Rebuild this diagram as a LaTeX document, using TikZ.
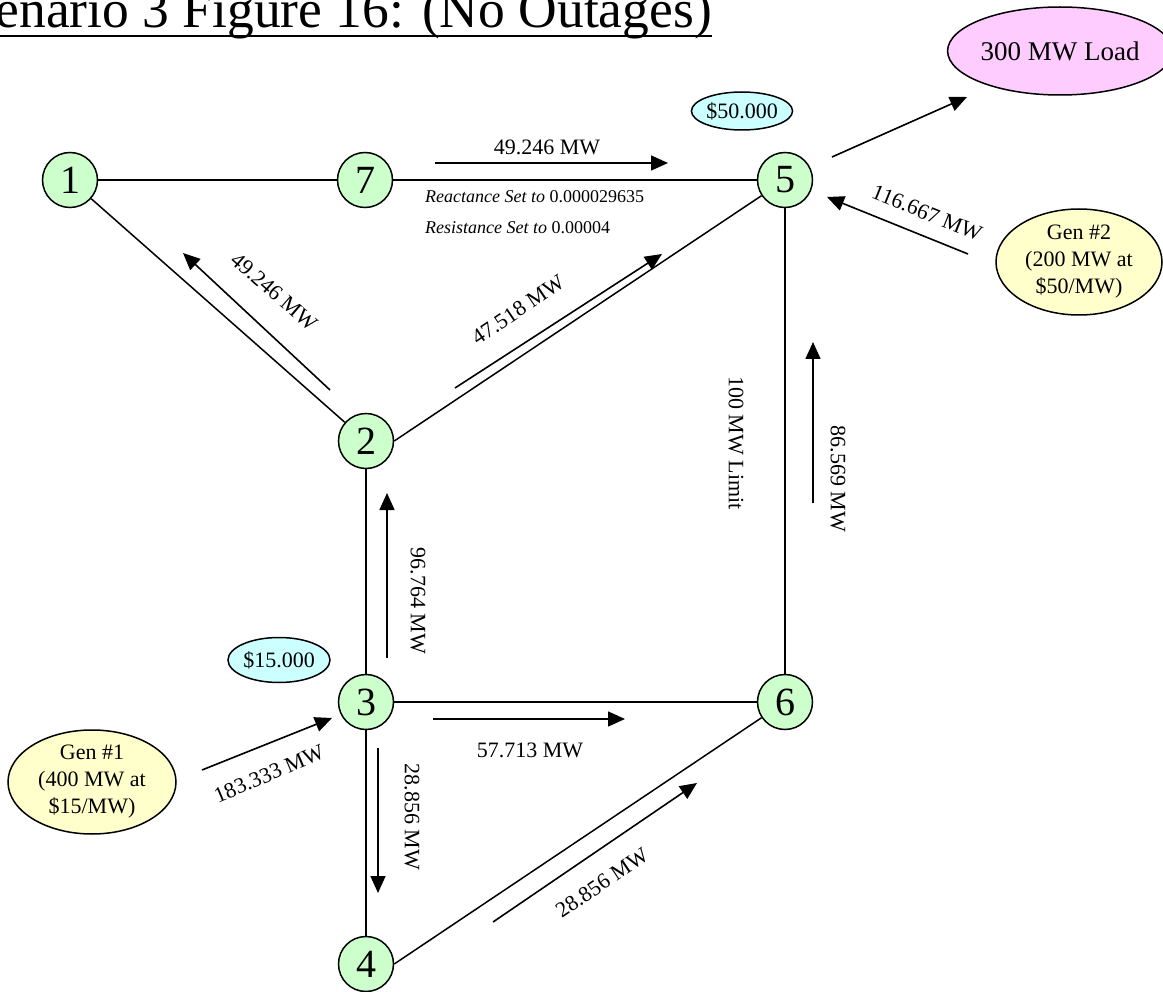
\documentclass[tikz,border=0pt]{standalone}
\usepackage{fontspec}
\setmainfont{Liberation Serif}
\usetikzlibrary{arrows.meta,shapes.geometric}
\definecolor{busgreen}{RGB}{204,255,204}
\definecolor{pricecyan}{RGB}{204,255,255}
\definecolor{genyellow}{RGB}{255,255,204}
\definecolor{loadpink}{RGB}{255,204,255}
\begin{document}
\begin{tikzpicture}[x=1pt,y=-1pt,
  bus/.style={circle,draw,line width=1.5pt,fill=busgreen,minimum size=55pt,
    inner sep=0pt,font=\fontsize{40}{40}\selectfont},
  tie/.style={line width=1.5pt},
  flow/.style={line width=1.6pt,-{Triangle[length=17pt,width=15pt]}},
  lbl/.style={inner sep=0pt,font=\fontsize{22}{26}\selectfont},
  note/.style={inner sep=0pt,font=\fontsize{18}{22}\selectfont},
  oval/.style={ellipse,draw,line width=1.5pt,inner sep=0pt,align=center,
    font=\fontsize{22}{27}\selectfont},
]
\useasboundingbox (0,0) rectangle (1163,992);

% title
\node[anchor=base east,inner sep=0pt,font=\fontsize{53.5}{60}\selectfont]
  (title) at (712,28) {Scenario 3 Figure 16: (No Outages)};
\draw[line width=2.2pt] ([yshift=-8pt]title.base west) -- ([yshift=-8pt]title.base east);

% buses
\node[bus] (n1) at (70,180) {1};
\node[bus] (n7) at (365,180) {7};
\node[bus] (n5) at (785,180) {5};
\node[bus] (n2) at (366,441) {2};
\node[bus] (n3) at (366,702) {3};
\node[bus] (n6) at (785,702) {6};
\node[bus] (n4) at (366,964) {4};

% generators, load and prices
\node[oval,fill=loadpink,minimum width=180pt,minimum height=88pt,
  font=\fontsize{27}{30}\selectfont] (load) at (1060,51) {300 MW Load};
\node[oval,fill=genyellow,minimum width=166pt,minimum height=106pt]
  (gen2) at (1079,262) {Gen \#2\\(200 MW at\\\$50/MW)};
\node[oval,fill=genyellow,minimum width=168pt,minimum height=104pt]
  (gen1) at (92,782) {Gen \#1\\(400 MW at\\\$15/MW)};
\node[oval,fill=pricecyan,minimum width=100pt,minimum height=38pt]
  (p5) at (742,111) {\$50.000};
\node[oval,fill=pricecyan,minimum width=102pt,minimum height=45pt]
  (p3) at (279,660) {\$15.000};

% transmission lines
\draw[tie] (n1) -- (n7);
\draw[tie] (n7) -- (n5);
\draw[tie] (n1) -- (n2);
\draw[tie] (n2.east) -- (n5);
\draw[tie] (n2) -- (n3);
\draw[tie] (n3) -- (n6);
\draw[tie] (n3) -- (n4);
\draw[tie] (n4.east) -- (n6);
\draw[tie] (n5) -- (n6);

% flow arrow end points
\coordinate (a75s) at (435,163);  \coordinate (a75e) at (668,163);
\coordinate (a21s) at (330,390);  \coordinate (a21e) at (183,253);
\coordinate (a25s) at (455,388);  \coordinate (a25e) at (662,254);
\coordinate (a32s) at (387,658);  \coordinate (a32e) at (387,493);
\coordinate (a65s) at (813,503);  \coordinate (a65e) at (813,342);
\coordinate (a36s) at (433,719);  \coordinate (a36e) at (625,719);
\coordinate (a34s) at (378,748);  \coordinate (a34e) at (378,893);
\coordinate (a46s) at (493,922);  \coordinate (a46e) at (697,783);
\coordinate (ag1s) at (202,770);  \coordinate (ag1e) at (332,718);
\coordinate (alds) at (832,157);  \coordinate (alde) at (967,97);
\coordinate (ag2s) at (968,254);  \coordinate (ag2e) at (827,197);

% flows
\draw[flow] (a75s) -- (a75e);
\draw[flow] (a21s) -- (a21e);
\draw[flow] (a25s) -- (a25e);
\draw[flow] (a32s) -- (a32e);
\draw[flow] (a65s) -- (a65e);
\draw[flow] (a36s) -- (a36e);
\draw[flow] (a34s) -- (a34e);
\draw[flow] (a46s) -- (a46e);
\draw[flow] (ag1s) -- (ag1e);
\draw[flow] (alds) -- (alde);
\draw[flow] (ag2s) -- (ag2e);

% flow labels
\node[lbl] (l75) at (547,147) {49.246 MW};
\node[lbl,rotate=-41] (l21) at (274,292) {49.246 MW};
\node[lbl,rotate=34] (l25) at (518,310) {47.518 MW};
\node[lbl,rotate=-90] (l32) at (418,601) {96.764 MW};
\node[lbl,rotate=-90] (l65) at (838,479) {86.569 MW};
\node[lbl,rotate=-90] (lim) at (736,443) {100 MW Limit};
\node[lbl] (l36) at (530,750) {57.713 MW};
\node[lbl,rotate=-90] (l34) at (412,817) {28.856 MW};
\node[lbl,rotate=34] (l46) at (602,883) {28.856 MW};
\node[lbl,rotate=23] (lg1) at (269,774) {183.333 MW};
\node[lbl,rotate=-22] (lg2) at (927,213) {116.667 MW};

% line 7-5 settings
\node[note,anchor=base west] (xset) at (425,203) {\textit{Reactance Set to} 0.000029635};
\node[note,anchor=base west] (rset) at (425,234) {\textit{Resistance Set to} 0.00004};
\end{tikzpicture}
\end{document}
